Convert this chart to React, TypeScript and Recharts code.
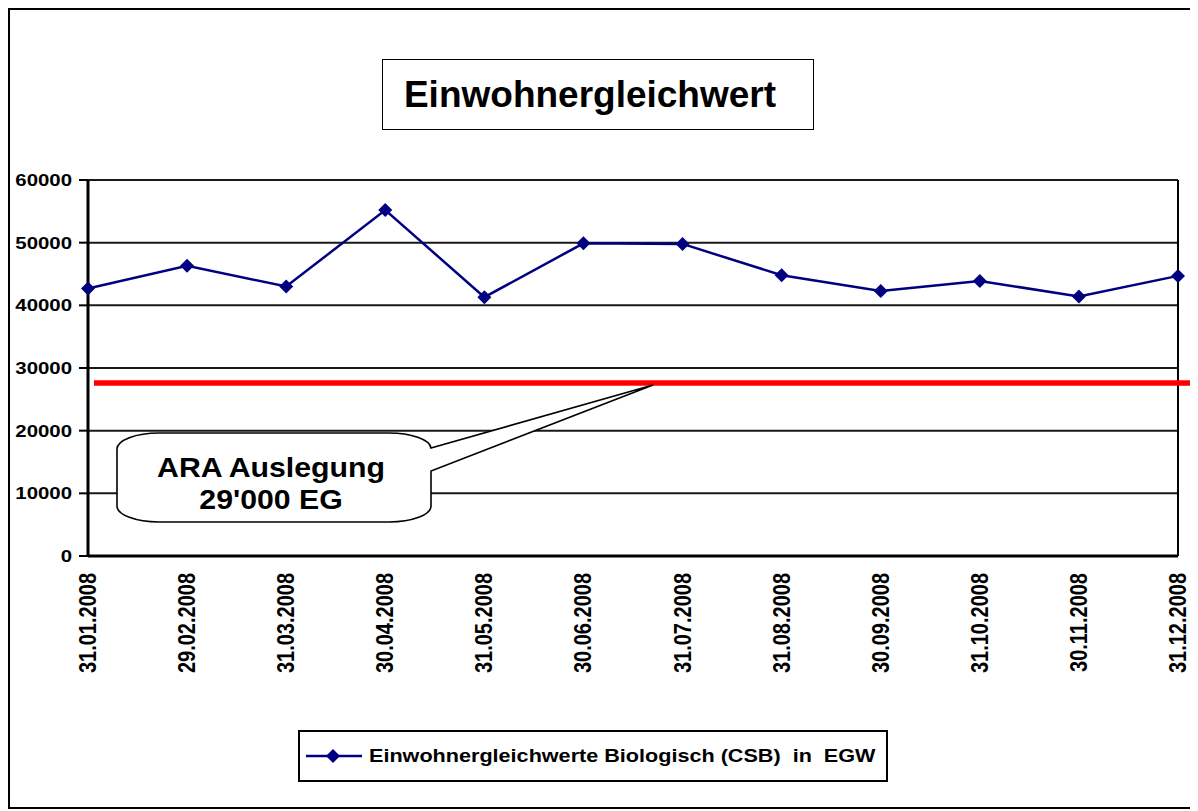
import React from 'react'
import {
  LineChart, Line, XAxis, YAxis, CartesianGrid, ReferenceLine, Legend,
} from 'recharts'

// ── Data ──────────────────────────────────────────────────────────────────────

const dates = [
  '31.01.2008', '29.02.2008', '31.03.2008', '30.04.2008', '31.05.2008', '30.06.2008',
  '31.07.2008', '31.08.2008', '30.09.2008', '31.10.2008', '30.11.2008', '31.12.2008',
]
const egwValues = [42700, 46300, 43000, 55200, 41300, 49900, 49800, 44800, 42300, 43900, 41400, 44700]
const yTicks = [0, 10000, 20000, 30000, 40000, 50000, 60000]
const designLoad = 27600
const calloutLines = ['ARA Auslegung', "29'000 EG"]
const seriesName = 'Einwohnergleichwerte Biologisch (CSB)  in  EGW'
const title = 'Einwohnergleichwert'

const rows = dates.map((d, i) => ({ date: d, egw: egwValues[i] }))

const FONT = '"Liberation Sans", Arial, sans-serif'
const NAVY = '#000080'

// ── Ticks, markers ────────────────────────────────────────────────────────────

function YTick({ x, y, payload }: any) {
  return (
    <text transform={`translate(${x},${y}) scale(1.2,1)`} textAnchor="end" dominantBaseline="central"
      style={{ fontFamily: FONT, fontSize: 17, fontWeight: 700, fill: '#000' }}>
      {payload.value}
    </text>
  )
}

function XTick({ x, y, payload }: any) {
  return (
    <text transform={`translate(${x},${y + 17}) scale(1.15,1) rotate(-90)`} textAnchor="end" dominantBaseline="central"
      style={{ fontFamily: FONT, fontSize: 20, fontWeight: 700, fill: '#000' }}>
      {payload.value}
    </text>
  )
}

function Diamond({ cx, cy, index }: any) {
  if (cx == null || cy == null) return null
  const r = 7
  return <path key={`d-${index}`} d={`M${cx},${cy - r}L${cx + r},${cy}L${cx},${cy + r}L${cx - r},${cy}Z`} fill={NAVY} />
}

// red design line + speech-bubble callout
function DesignLine({ x1, y1, x2 }: any) {
  const ly = y1
  const bx0 = 109, bx1 = 423
  const by0 = ly + 50, by1 = ly + 139
  const rx = 42, ry = 16
  const tipX = 645, tipY = ly + 2
  const baseUp = ly + 65, baseLo = ly + 88
  const d = [
    `M${bx0 + rx},${by0}`,
    `L${bx1 - rx},${by0}`,
    `A${rx},${ry} 0 0 1 ${bx1},${baseUp}`,
    `L${tipX},${tipY}`,
    `L${bx1},${baseLo}`,
    `L${bx1},${by1 - ry}`,
    `A${rx},${ry} 0 0 1 ${bx1 - rx},${by1}`,
    `L${bx0 + rx},${by1}`,
    `A${rx},${ry} 0 0 1 ${bx0},${by1 - ry}`,
    `L${bx0},${by0 + ry}`,
    `A${rx},${ry} 0 0 1 ${bx0 + rx},${by0}`,
    'Z',
  ].join(' ')
  return (
    <g>
      <line x1={x1 + 6} y1={ly} x2={x2 + 18} y2={ly} stroke="#ff0000" strokeWidth={5.5} />
      <path d={d} fill="#fff" stroke="#000" strokeWidth={1.6} />
      {calloutLines.map((t, i) => (
        <text key={t} transform={`translate(263,${ly + 94 + i * 32}) scale(1.08,1)`} textAnchor="middle"
          style={{ fontFamily: FONT, fontSize: 28, fontWeight: 700, fill: '#000' }}>
          {t}
        </text>
      ))}
    </g>
  )
}

function LegendBox() {
  return (
    <div style={{
      width: 590, height: 52, boxSizing: 'border-box', border: '2px solid #000', background: '#fff',
      position: 'relative', fontFamily: FONT,
    }}>
      <svg width={70} height={48} style={{ position: 'absolute', left: 0, top: 0 }}>
        <line x1={6} y1={24} x2={62} y2={24} stroke={NAVY} strokeWidth={2.5} />
        <path d="M33,17L40,24L33,31L26,24Z" fill={NAVY} />
      </svg>
      <div style={{
        position: 'absolute', left: 69, top: 0, height: 48, lineHeight: '48px', whiteSpace: 'pre',
        fontSize: 18, fontWeight: 700, color: '#000', transform: 'scaleX(1.2)', transformOrigin: 'left center',
      }}>
        {seriesName}
      </div>
    </div>
  )
}

// ── Chart ─────────────────────────────────────────────────────────────────────

export default function App() {
  return (
    <div style={{ position: 'relative', width: 1189, height: 801, background: '#fff' }}>
      <LineChart width={1189} height={801} data={rows} margin={{ top: 172, right: 19, bottom: 123, left: 0 }}>
        <CartesianGrid vertical={false} stroke="#000" strokeWidth={2} strokeOpacity={0.9} />
        <XAxis dataKey="date" height={130} interval={0} tick={<XTick />} tickLine={false}
          tickSize={0} tickMargin={0} axisLine={{ stroke: '#000', strokeWidth: 3 }} />
        <YAxis width={80} domain={[0, 60000]} ticks={yTicks} interval={0} tick={<YTick />}
          tickSize={9} tickMargin={7} tickLine={{ stroke: '#000', strokeWidth: 2 }}
          axisLine={{ stroke: '#000', strokeWidth: 3 }} />
        <ReferenceLine x={dates[dates.length - 1]} stroke="#000" strokeWidth={2} />
        <ReferenceLine y={designLoad} shape={(p: any) => <DesignLine {...p} />} ifOverflow="visible" />
        <Line type="linear" dataKey="egw" name={seriesName} stroke={NAVY} strokeWidth={2.5}
          dot={(p: any) => <Diamond {...p} />} activeDot={false} isAnimationActive={false} />
        <Legend layout="horizontal" verticalAlign="middle" align="center" content={() => <LegendBox />}
          wrapperStyle={{ left: 290, top: 722, width: 590, height: 52 }} />
      </LineChart>
      <div style={{
        position: 'absolute', left: 374, top: 51, width: 432, height: 71, boxSizing: 'border-box',
        border: '1.5px solid #000', background: '#fff', display: 'flex', alignItems: 'center',
        justifyContent: 'center', paddingRight: 16, fontFamily: FONT, fontSize: 37, fontWeight: 700,
      }}>
        {title}
      </div>
      <div style={{
        position: 'absolute', left: 0, top: 0, width: 1189, height: 801, boxSizing: 'border-box',
        border: '2px solid #000', pointerEvents: 'none',
      }} />
    </div>
  )
}
